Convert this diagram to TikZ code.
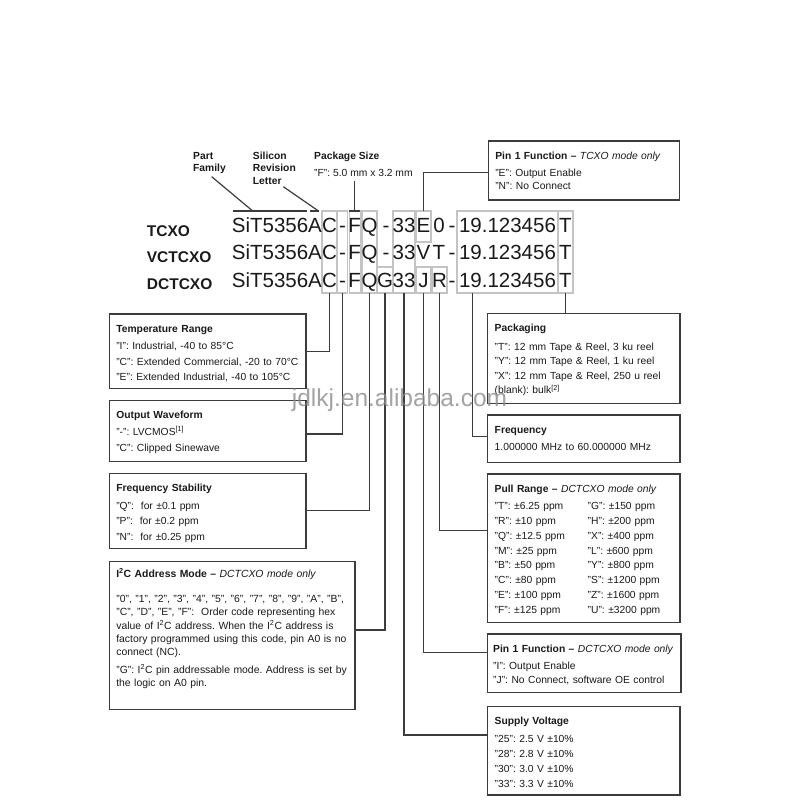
\documentclass[tikz,border=0pt]{standalone}
\usepackage{fontspec}
\setmainfont{Liberation Sans}
\frenchspacing
\definecolor{linegray}{HTML}{3C3C3C}
\definecolor{boxgray}{HTML}{C4C4C4}
\definecolor{inkblack}{HTML}{1A1A1A}
\begin{document}
\begin{tikzpicture}[x=1pt, y=-1pt,
    wire/.style={draw=linegray, line width=1.2pt},
    charbox/.style={draw=boxgray, line width=1.1pt, inner sep=0pt, outer sep=0pt},
    code/.style={font=\fontsize{20.5}{24}\selectfont, text=inkblack, inner sep=0pt, anchor=base},
    rowlabel/.style={font=\fontsize{15.5}{18}\selectfont\bfseries, text=inkblack, inner sep=0pt, anchor=base west},
    toplabel/.style={font=\fontsize{10.3}{12.5}\selectfont\bfseries, text=inkblack, inner sep=0pt, anchor=base west},
    infobox/.style={draw=linegray, line width=1.2pt, anchor=north west, align=left,
        inner xsep=7pt, inner ysep=0pt, outer sep=0pt, text height=18pt, text=inkblack},
  ]
  \useasboundingbox[fill=white] (0,0) rectangle (800,800);

  % top labels
  \node[toplabel] (fam1) at (193,159.4) {Part};
  \node[toplabel] (fam2) at (193,171.9) {Family};
  \node[toplabel] (rev1) at (252.7,159.4) {Silicon};
  \node[toplabel] (rev2) at (252.7,171.9) {Revision};
  \node[toplabel] (rev3) at (252.7,184.4) {Letter};
  \node[toplabel] (pkg1) at (314,159.4) {Package Size};
  \node[toplabel, font=\fontsize{10.3}{12.5}\selectfont] (pkg2) at (314,176) {"F": 5.0 mm x 3.2 mm};

  % row labels
  \node[rowlabel] (tcxo) at (146.7,236) {TCXO};
  \node[rowlabel] (vctcxo) at (146.7,262.7) {VCTCXO};
  \node[rowlabel] (dctcxo) at (146.7,289.3) {DCTCXO};

  % boxes round the code characters
  \node[charbox, minimum width=15pt, minimum height=82pt] (boxC) at (329.5,252) {};
  \node[charbox, minimum width=10pt, minimum height=82pt] (boxD) at (342.5,252) {};
  \node[charbox, minimum width=11pt, minimum height=82pt] (boxF) at (354.75,252) {};
  \node[charbox, minimum width=15pt, minimum height=82pt] (boxQ) at (369.5,252) {};
  \node[charbox, minimum width=16pt, minimum height=26pt] (boxG) at (385,280) {};
  \node[charbox, minimum width=22pt, minimum height=82pt] (boxN) at (404,252) {};
  \node[charbox, minimum width=15pt, minimum height=31pt] (boxE) at (423.5,226.5) {};
  \node[charbox, minimum width=15pt, minimum height=26pt] (boxJ) at (423.5,280) {};
  \node[charbox, minimum width=15pt, minimum height=26pt] (boxR) at (439.5,280) {};
  \node[charbox, minimum width=101pt, minimum height=82pt] (boxNum) at (507.5,252) {};
  \node[charbox, minimum width=15pt, minimum height=82pt] (boxT) at (565.5,252) {};

  % part numbers
  \foreach \ry/\rn in {232/1, 259.5/2, 287/3} {
    \node[code, anchor=base west] (fam\rn) at (231.7,\ry) {SiT5356A};
    \node[code] (rev\rn) at (329.5,\ry) {C};
    \node[code] (dasha\rn) at (342.5,\ry) {-};
    \node[code] (size\rn) at (354.75,\ry) {F};
    \node[code] (stab\rn) at (369.5,\ry) {Q};
    \node[code] (volt\rn) at (404,\ry) {33};
    \node[code] (dashc\rn) at (452,\ry) {-};
    \node[code] (freq\rn) at (507.5,\ry) {19.123456};
    \node[code] (pack\rn) at (565.5,\ry) {T};
  }
  \node[code] (dashb1) at (386,232) {-};
  \node[code] (pina1) at (423.5,232) {E};
  \node[code] (pinb1) at (439,232) {0};
  \node[code] (dashb2) at (386,259.5) {-};
  \node[code] (pina2) at (423.5,259.5) {V};
  \node[code] (pinb2) at (439,259.5) {T};
  \node[code] (addr3) at (385,287) {G};
  \node[code] (pina3) at (423.5,287) {J};
  \node[code] (pinb3) at (439.5,287) {R};

  % left column
  \node[infobox, text width=182.7pt, text depth=56.3pt, font=\fontsize{10.3}{15.5}\selectfont] (temp) at (109.3,314)
    {\textbf{Temperature Range}\\[2.2pt]
     "I": Industrial, -40 to 85°C\\
     "C": Extended Commercial, -20 to 70°C\\
     "E": Extended Industrial, -40 to 105°C};
  \node[infobox, text width=182.7pt, text depth=43pt, font=\fontsize{10.3}{16}\selectfont] (wave) at (109.3,400.7)
    {\textbf{Output Waveform}\\[0.7pt]
     "-": LVCMOS\textsuperscript{[1]}\\
     "C": Clipped Sinewave};
  \node[infobox, text width=182.7pt, text depth=57pt, font=\fontsize{10.3}{15.5}\selectfont] (stab) at (109.3,473.3)
    {\textbf{Frequency Stability}\\[2.2pt]
     "Q":~ for ±0.1 ppm\\
     "P":~ for ±0.2 ppm\\
     "N":~ for ±0.25 ppm};
  \node[infobox, text width=231.7pt, text height=15.5pt, text depth=132.1pt, font=\fontsize{10.4}{13.4}\selectfont] (i2c) at (109.3,561.7)
    {\textbf{I\textsuperscript{2}C Address Mode --} \textit{DCTCXO mode only}\\[11.6pt]
     "0", "1", "2", "3", "4", "5", "6", "7", "8", "9", "A", "B",\\
     "C", "D", "E", "F":~ Order code representing hex\\
     value of I\textsuperscript{2}C address. When the I\textsuperscript{2}C address is\\
     factory programmed using this code, pin A0 is no\\
     connect (NC).\\[3.9pt]
     "G": I\textsuperscript{2}C pin addressable mode. Address is set by\\
     the logic on A0 pin.};

  % right column
  \node[infobox, text width=177pt, text depth=41pt, font=\fontsize{10.3}{12.7}\selectfont] (pinT) at (488.3,141)
    {\textbf{Pin 1 Function --} \textit{TCXO mode only}\\[4.9pt]
     "E": Output Enable\\
     "N": No Connect};
  \node[infobox, text width=178.3pt, text depth=72pt, font=\fontsize{10.3}{14.5}\selectfont] (pack) at (487.7,313.3)
    {\textbf{Packaging}\\[4.5pt]
     "T": 12 mm Tape \& Reel, 3 ku reel\\
     "Y": 12 mm Tape \& Reel, 1 ku reel\\
     "X": 12 mm Tape \& Reel, 250 u reel\\
     (blank): bulk\textsuperscript{[2]}};
  \node[infobox, text width=178.3pt, text depth=29.3pt, font=\fontsize{10.3}{15}\selectfont] (freq) at (487.7,415)
    {\textbf{Frequency}\\[2.4pt]
     1.000000 MHz to 60.000000 MHz};
  \node[infobox, text width=178.3pt, text depth=130.7pt, font=\fontsize{10.3}{14.8}\selectfont] (pull) at (487.7,474)
    {\textbf{Pull Range --} \textit{DCTCXO mode only}\\[2.9pt]
     \makebox[93pt][l]{"T": ±6.25 ppm}"G": ±150 ppm\\
     \makebox[93pt][l]{"R": ±10 ppm}"H": ±200 ppm\\
     \makebox[93pt][l]{"Q": ±12.5 ppm}"X": ±400 ppm\\
     \makebox[93pt][l]{"M": ±25 ppm}"L": ±600 ppm\\
     \makebox[93pt][l]{"B": ±50 ppm}"Y": ±800 ppm\\
     \makebox[93pt][l]{"C": ±80 ppm}"S": ±1200 ppm\\
     \makebox[93pt][l]{"E": ±100 ppm}"Z": ±1600 ppm\\
     \makebox[93pt][l]{"F": ±125 ppm}"U": ±3200 ppm};
  \node[infobox, inner xsep=5.5pt, text width=182.3pt, text depth=40.7pt, font=\fontsize{10.3}{14.3}\selectfont] (pinD) at (487.7,634)
    {\textbf{Pin 1 Function --} \textit{DCTCXO mode only}\\[3.1pt]
     "I": Output Enable\\
     "J": No Connect, software OE control};
  \node[infobox, text width=178.3pt, text depth=70.3pt, font=\fontsize{10.3}{15.2}\selectfont] (supply) at (487.7,706.7)
    {\textbf{Supply Voltage}\\[2.4pt]
     "25": 2.5 V ±10\%\\
     "28": 2.8 V ±10\%\\
     "30": 3.0 V ±10\%\\
     "33": 3.3 V ±10\%};

  % leaders from the labels at the top
  \coordinate (famtip) at (211.7,176.7);
  \coordinate (famhit) at (252.7,211);
  \coordinate (famL) at (232.7,211);
  \coordinate (famR) at (307.3,211);
  \coordinate (revtip) at (283.3,186.7);
  \coordinate (revL) at (310,211);
  \coordinate (revR) at (318.5,211);
  \coordinate (pkgtip) at (354.75,181);
  \draw[wire] (famL) -- (famR);
  \draw[wire] (famtip) -- (famhit);
  \draw[wire] (revL) -- (revR);
  \draw[wire] (revtip) -- (revR);
  \draw[wire] (pkgtip) -- (boxF.north);
  \draw[wire] (boxF.north west) -- (boxF.north east);

  % leaders to the boxes
  \draw[wire] (temp.east) -| (boxC.south);
  \draw[wire] ([yshift=-2.8pt]wave.east) -| (boxD.south);
  \draw[wire] (stab.east) -| (boxQ.south);
  \draw[wire] ([yshift=5.5pt]i2c.east) -| (boxG.south);
  \draw[wire] (boxE.north) |- ([yshift=-1.8pt]pinT.west);
  \draw[wire] (boxT.south) -- (boxT.south |- pack.north);
  \draw[wire] ([xshift=-35.2pt]boxNum.south) |- ([yshift=2pt]freq.west);
  \draw[wire] ([yshift=17.6pt]pull.west) -| (boxR.south);
  \draw[wire] ([yshift=11pt]pinD.west) -| (boxJ.south);
  \draw[wire] ([yshift=15.8pt]supply.west) -| (boxN.south);

  % watermark
  \node[font=\fontsize{24.5}{28}\selectfont, text=black!45, opacity=0.8, inner sep=0pt, anchor=base west] (mark) at (291.7,406) {jdlkj.en.alibaba.com};
\end{tikzpicture}
\end{document}
